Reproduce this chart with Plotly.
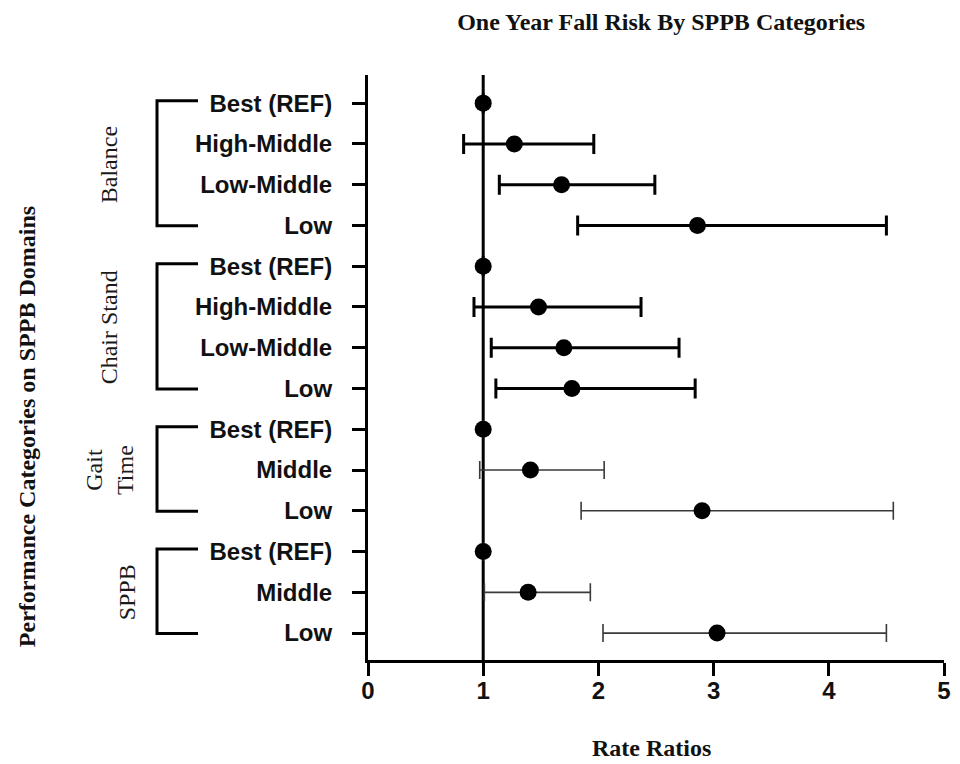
import plotly.graph_objects as go

# ---------------- data ----------------
domains = ["Balance", "Chair Stand", "Gait<br>Time", "SPPB"]

balance_cats = ["Best (REF)", "High-Middle", "Low-Middle", "Low"]
balance_est = [1.0, 1.27, 1.68, 2.86]
balance_lo = [None, 0.83, 1.14, 1.82]
balance_hi = [None, 1.96, 2.49, 4.50]

chair_cats = ["Best (REF)", "High-Middle", "Low-Middle", "Low"]
chair_est = [1.0, 1.48, 1.70, 1.77]
chair_lo = [None, 0.92, 1.07, 1.11]
chair_hi = [None, 2.37, 2.70, 2.84]

gait_cats = ["Best (REF)", "Middle", "Low"]
gait_est = [1.0, 1.41, 2.90]
gait_lo = [None, 0.97, 1.85]
gait_hi = [None, 2.05, 4.56]

sppb_cats = ["Best (REF)", "Middle", "Low"]
sppb_est = [1.0, 1.39, 3.03]
sppb_lo = [None, 1.01, 2.04]
sppb_hi = [None, 1.93, 4.50]

x_ticks = [0, 1, 2, 3, 4, 5]
ref_value = 1

groups = [
    (balance_cats, balance_est, balance_lo, balance_hi),
    (chair_cats, chair_est, chair_lo, chair_hi),
    (gait_cats, gait_est, gait_lo, gait_hi),
    (sppb_cats, sppb_est, sppb_lo, sppb_hi),
]

# styles per group (thick for first two, thin for last two)
err_styles = [
    dict(color="black", thickness=3, width=10),
    dict(color="black", thickness=3, width=10),
    dict(color="#3a3a3a", thickness=1.6, width=9),
    dict(color="#3a3a3a", thickness=1.6, width=9),
]
label_x = [-0.4497, -0.4497, -0.4497, -0.4184]

fig = go.Figure()

tickvals, ticktext = [], []
row = 0
shapes = []
annotations = []
for gi, (cats, est, lo, hi) in enumerate(groups):
    ys = list(range(row, row + len(cats)))
    plus = [None if h is None else h - e for e, h in zip(est, hi)]
    minus = [None if l is None else e - l for e, l in zip(est, lo)]
    fig.add_trace(go.Scatter(
        x=est, y=ys, mode="markers",
        marker=dict(color="black", size=17),
        error_x=dict(type="data", symmetric=False, array=plus, arrayminus=minus,
                     **err_styles[gi]),
        showlegend=False, hoverinfo="x+y",
    ))
    tickvals += ys
    ticktext += cats
    top, bot = ys[0] - 0.06, ys[-1] + 0.01
    shapes.append(dict(
        type="path", xref="paper", yref="y",
        path=f"M -0.2951,{top} L -0.3663,{top} L -0.3663,{bot} L -0.2951,{bot}",
        line=dict(color="black", width=3),
    ))
    annotations.append(dict(
        xref="paper", yref="y", x=label_x[gi], y=(ys[0] + ys[-1]) / 2,
        text=domains[gi], textangle=-90, showarrow=False,
        font=dict(family="Liberation Serif, Times New Roman, serif", size=24, color="#1a1a1a"),
        xanchor="center", yanchor="middle",
    ))
    row += len(cats)

# reference line
shapes.append(dict(type="line", xref="x", yref="paper", x0=ref_value, x1=ref_value,
                   y0=0, y1=1, line=dict(color="black", width=3), layer="below"))

serif_bold = dict(family="Liberation Serif, Times New Roman, serif", size=24,
                  color="#111", weight="bold")
annotations.append(dict(xref="paper", yref="paper", x=0.493, y=-0.150,
                        text="Rate Ratios", showarrow=False, font=serif_bold,
                        xanchor="center", yanchor="middle"))
annotations.append(dict(xref="paper", yref="paper", x=-0.592, y=0.398,
                        text="Performance Categories on SPPB Domains", textangle=-90,
                        showarrow=False, font=serif_bold,
                        xanchor="center", yanchor="middle"))

sans_bold = dict(family="Liberation Sans, Arial, sans-serif", size=24,
                 color="#111", weight="bold")

# the page body adds an 8px offset; size the figure to fit the body width
fig.update_layout(
    width=944, height=756,
    margin=dict(l=360, r=8, t=67, b=104, autoexpand=False),
    paper_bgcolor="white", plot_bgcolor="white",
    title=dict(text="One Year Fall Risk By SPPB Categories", x=0.509, xref="paper",
               y=1 - 14 / 756, yanchor="middle", xanchor="center", font=serif_bold),
    xaxis=dict(range=[0, 5], tickvals=x_ticks, showline=True, linewidth=3,
               linecolor="black", ticks="outside", ticklen=13, tickwidth=3,
               tickcolor="black", showgrid=False, zeroline=False, tickfont=sans_bold,
               ticklabelstandoff=-6, automargin=False, ticklabeloverflow="allow"),
    yaxis=dict(range=[row - 1 + 0.66, -0.69], tickvals=tickvals, ticktext=ticktext,
               showline=True, linewidth=3, linecolor="black", ticks="outside",
               ticklen=13, tickwidth=3, tickcolor="black", showgrid=False,
               zeroline=False, tickfont=sans_bold, ticklabelstandoff=15,
               automargin=False, ticklabeloverflow="allow"),
    shapes=shapes,
    annotations=annotations,
)

fig.write_html("out.html")
